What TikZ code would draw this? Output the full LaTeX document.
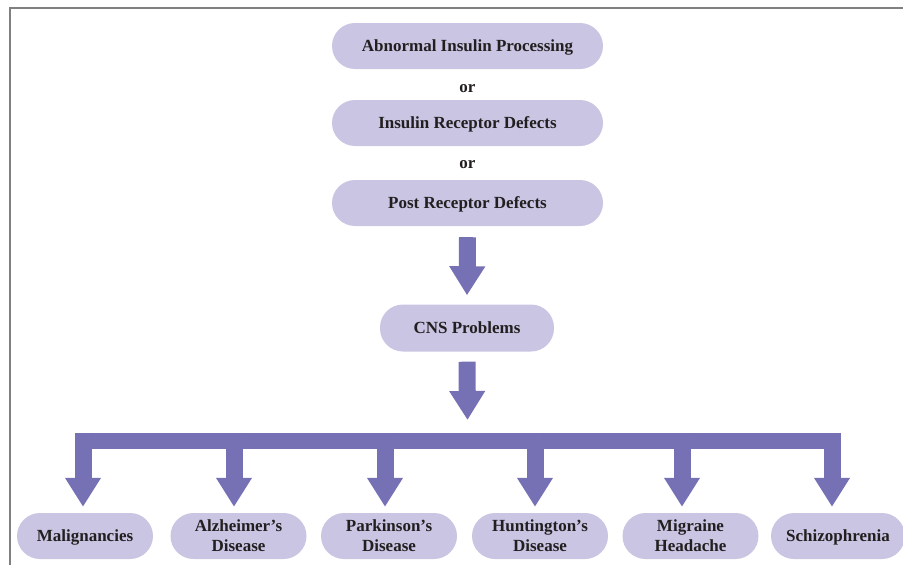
\documentclass[tikz,border=0pt]{standalone}
\usepackage{fontspec}
\setmainfont{Liberation Serif}
\usetikzlibrary{arrows.meta,calc}
\definecolor{boxfill}{HTML}{C9C5E3}
\definecolor{arrowc}{HTML}{7671B4}
\definecolor{txt}{HTML}{231F20}
\definecolor{framec}{HTML}{808080}
\begin{document}
\begin{tikzpicture}[x=1pt,y=-1pt,
  pill/.style={fill=boxfill, draw=none, rounded corners=23pt, minimum height=46pt,
    inner sep=0pt, align=center, text=txt, font=\fontsize{17}{20}\selectfont\bfseries},
  onepill/.style={pill, text height=11.5pt, text depth=0pt},
  ortext/.style={text=txt, font=\fontsize{17}{20}\selectfont\bfseries, inner sep=0pt},
  fat/.style={draw=arrowc, line width=17pt, -{Triangle[width=34pt,length=29pt]}},
  bus/.style={draw=arrowc, line width=16pt}
]
\useasboundingbox (0,0) rectangle (903,565);
\draw[framec, line width=1.3pt] (10,565) -- (10,8) -- (903,8);

\node[onepill, minimum width=271pt] (b1) at (467.5,46) {Abnormal Insulin Processing};
\node[ortext] (or1) at (467.5,89) {or};
\node[onepill, minimum width=271pt] (b2) at (467.5,123) {Insulin Receptor Defects};
\node[ortext] (or2) at (467.5,165) {or};
\node[onepill, minimum width=271pt] (b3) at (467.5,203) {Post Receptor Defects};
\node[onepill, minimum width=174pt, minimum height=47pt] (cns) at (467,328) {CNS Problems};

\node[onepill, minimum width=136pt] (m1) at (85,536) {Malignancies};
\node[pill, minimum width=136pt] (m2) at (238.5,536) {Alzheimer’s\\Disease};
\node[pill, minimum width=136pt] (m3) at (389,536) {Parkinson’s\\Disease};
\node[pill, minimum width=136pt] (m4) at (540,536) {Huntington’s\\Disease};
\node[pill, minimum width=136pt] (m5) at (690.5,536) {Migraine\\Headache};
\node[onepill, minimum width=134pt] (m6) at (838,536) {Schizophrenia};

\draw[fat] ($(b3.south)+(0,11)$) -- ($(cns.north)+(0,-9)$);
\coordinate (hub) at (467.5,420);
\draw[fat] ($(cns.south)+(0,10)$) -- (hub);

\coordinate (d1) at (83,440.5);
\coordinate (d2) at (234,440.5);
\coordinate (d3) at (385,440.5);
\coordinate (d4) at (535,440.5);
\coordinate (d5) at (682,440.5);
\coordinate (d6) at (832,440.5);
\draw[bus] (d1) -- (d6);
\foreach \i in {1,...,6}{
  \draw[fat] ($(d\i)+(0,-8)$) -- ($(d\i |- m\i.north)+(0,-6)$);
}
\end{tikzpicture}
\end{document}
